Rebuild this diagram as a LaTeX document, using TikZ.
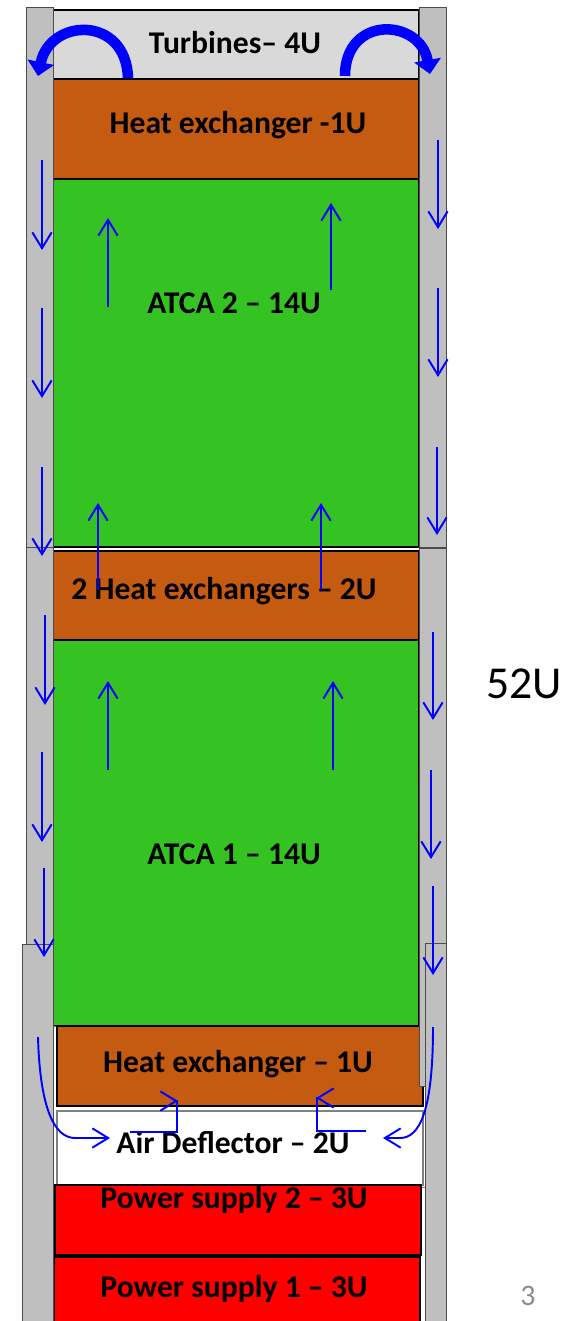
\documentclass[tikz,border=0pt]{standalone}
\usepackage{fontspec}
\setmainfont{Carlito}
\usetikzlibrary{arrows.meta}
\definecolor{colgray}{HTML}{BFBFBF}
\definecolor{turbgray}{HTML}{D9D9D9}
\definecolor{hexorange}{HTML}{C55A11}
\definecolor{atcagreen}{HTML}{34C322}
\definecolor{pagegray}{HTML}{8C8C8C}

\begin{document}
\begin{tikzpicture}[x=0.02cm,y=-0.02cm,
  col/.style={fill=colgray,draw=black!70,line width=0.5pt},
  unit/.style={draw=black,line width=0.6pt},
  lbl/.style={font=\bfseries\fontsize{18}{20}\selectfont},
  flow/.style={blue,line width=1.1pt,-{Straight Barb[length=9pt,width=11pt]}},
  fan/.style={blue,line width=6pt,-{Triangle[length=8pt,width=15pt]}}]
\useasboundingbox (0,0) rectangle (584,1321);
% rack units
\draw[unit,fill=turbgray] (53,10) rectangle (419,79);
\draw[unit,fill=hexorange] (53,79) rectangle (419,179);
\draw[unit,fill=atcagreen] (53,179) rectangle (419,547);
\draw[unit,fill=hexorange] (53,551) rectangle (419,640);
\draw[unit,fill=atcagreen] (53,640) rectangle (419,1026);
\draw[draw=black!50,fill=white] (53,1026) rectangle (425,1187);
\draw[unit,fill=hexorange] (57,1026) rectangle (423,1106);
\draw[draw=black!50,line width=0.6pt,fill=white] (57,1111) rectangle (423,1185);
\draw[unit,fill=red] (55,1185) rectangle (421,1255);
\draw[unit,fill=red] (54,1257) rectangle (420,1330);
% side ducts
\draw[col] (26,7) rectangle (53,547);
\draw[col] (419,7) rectangle (446,547);
\draw[col] (26,547) rectangle (53,1000);
\draw[col] (419,548) rectangle (446,1086);
\draw[col] (22,944) rectangle (53,1330);
\draw[col] (425,943) rectangle (446,1330);
% labels
\node[lbl] (turb) at (235,43) {Turbines– 4U};
\node[lbl] (hextop) at (238,125) {Heat exchanger -1U};
\node[lbl] (atcb) at (234,303) {ATCA 2 – 14U};
\node[lbl] (hexmid) at (224,591) {2 Heat exchangers – 2U};
\node[lbl] (atca) at (234,854) {ATCA 1 – 14U};
\node[lbl] (hexlow) at (238,1064) {Heat exchanger – 1U};
\node[lbl] (defl) at (233,1143) {Air Deflector – 2U};
\node[lbl] (psb) at (234,1200) {Power supply 2 – 3U};
\node[lbl] (psa) at (234,1289) {Power supply 1 – 3U};
\node[font=\fontsize{26}{30}\selectfont] (height) at (524,684) {52U};
\node[font=\fontsize{17}{20}\selectfont,text=pagegray] (page) at (528,1296) {3};
% air flow
\draw[fan] (128,78) .. controls (126,15) and (50,18) .. (38,76);
\draw[fan] (345,76) .. controls (345,15) and (420,18) .. (430,74);
\foreach \x/\a/\b in {42/160/250,42/308/398,42/467/556,45/615/705,42/752/842,44/868/957,
  438/140/229,438/288/377,437/447/535,433/632/720,431/770/859,433/886/975,
  108/307/218,331/290/203,98/590/503,321/590/503,108/770/681,333/770/681}
  \draw[flow] (\x,\a) -- (\x,\b);
\draw[flow] (38,1037) .. controls (40,1110) and (55,1138) .. (75,1138) -- (110,1138);
\draw[flow] (433,1027) .. controls (433,1110) and (420,1138) .. (400,1138) -- (383,1138);
\draw[flow] (130,1132) -| (177,1101) -- (178,1101);
\draw[flow] (366,1131) -| (317,1098) -- (316,1098);
\end{tikzpicture}
\end{document}
